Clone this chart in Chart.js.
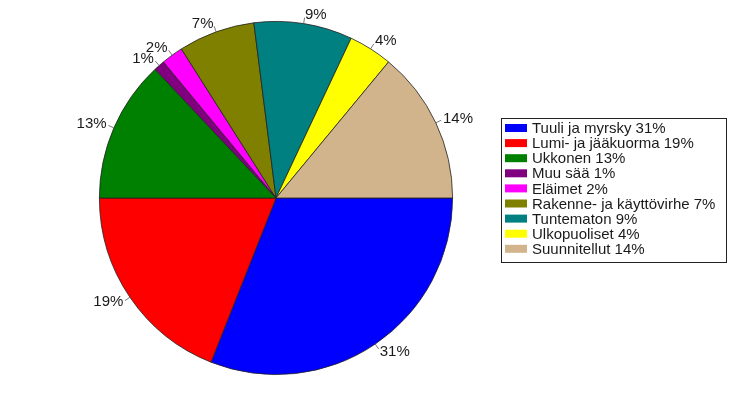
<!DOCTYPE html>
<html>
<head>
<meta charset="utf-8">
<script src="https://cdn.jsdelivr.net/npm/chart.js@4"></script>
<style>
  html, body { margin: 0; padding: 0; background: #fff; }
  #wrap { width: 730px; height: 399px; position: relative; }
</style>
</head>
<body>
<div id="wrap"><canvas id="pie"></canvas></div>
<script>
// Chart data
const categories = ['Tuuli ja myrsky', 'Lumi- ja jääkuorma', 'Ukkonen', 'Muu sää', 'Eläimet',
    'Rakenne- ja käyttövirhe', 'Tuntematon', 'Ulkopuoliset', 'Suunnitellut'];
const shares = [31, 19, 13, 1, 2, 7, 9, 4, 14];
const sliceColors = ['#0000FF', '#FF0000', '#008000', '#800080', '#FF00FF',
    '#808000', '#008080', '#FFFF00', '#D2B48C'];

const FONT = '15px "Liberation Sans", Arial, sans-serif';

// Percent labels outside the pie with short leader lines
const outerLabels = {
    id: 'outerLabels',
    afterDatasetsDraw(chart) {
        const ctx = chart.ctx;
        const arcs = chart.getDatasetMeta(0).data;
        ctx.save();
        ctx.font = FONT;
        ctx.fillStyle = '#1a1a1a';
        ctx.strokeStyle = '#555';
        ctx.lineWidth = 0.8;
        arcs.forEach((arc, i) => {
            const mid = (arc.startAngle + arc.endAngle) / 2;
            const r = arc.outerRadius;
            const cos = Math.cos(mid), sin = Math.sin(mid);
            ctx.beginPath();
            ctx.moveTo(arc.x + cos * r, arc.y + sin * r);
            ctx.lineTo(arc.x + cos * (r + 6), arc.y + sin * (r + 6));
            ctx.stroke();
            const tx = arc.x + cos * (r + 8);
            const ty = arc.y + sin * (r + 9);
            ctx.textAlign = cos < 0 ? 'right' : 'left';
            ctx.textBaseline = 'middle';
            ctx.fillText(shares[i] + '%', tx, ty);
        });
        ctx.restore();
    }
};

// Boxed legend on the right
const boxLegend = {
    id: 'boxLegend',
    afterDraw(chart) {
        const ctx = chart.ctx;
        const left = 501, top = 118, width = 225, height = 144;
        const rowH = 15.1, firstY = 128;
        ctx.save();
        ctx.strokeStyle = '#222';
        ctx.lineWidth = 1;
        ctx.strokeRect(left + 0.5, top + 0.5, width, height);
        ctx.font = FONT;
        ctx.textAlign = 'left';
        ctx.textBaseline = 'middle';
        categories.forEach((name, i) => {
            const y = firstY + i * rowH;
            ctx.fillStyle = sliceColors[i];
            ctx.fillRect(505, y - 4, 22, 8);
            ctx.fillStyle = '#1a1a1a';
            ctx.fillText(name + ' ' + shares[i] + '%', 532, y + 1);
        });
        ctx.restore();
    }
};

new Chart(document.getElementById('pie'), {
    type: 'pie',
    data: {
        labels: categories,
        datasets: [{
            data: shares,
            backgroundColor: sliceColors,
            borderColor: '#222',
            borderWidth: 0.8
        }]
    },
    options: {
        responsive: true,
        maintainAspectRatio: false,
        animation: false,
        rotation: 90,
        layout: { padding: { left: 99, right: 277, top: 21, bottom: 24 } },
        plugins: {
            legend: { display: false },
            tooltip: { enabled: false }
        }
    },
    plugins: [outerLabels, boxLegend]
});
</script>
</body>
</html>
